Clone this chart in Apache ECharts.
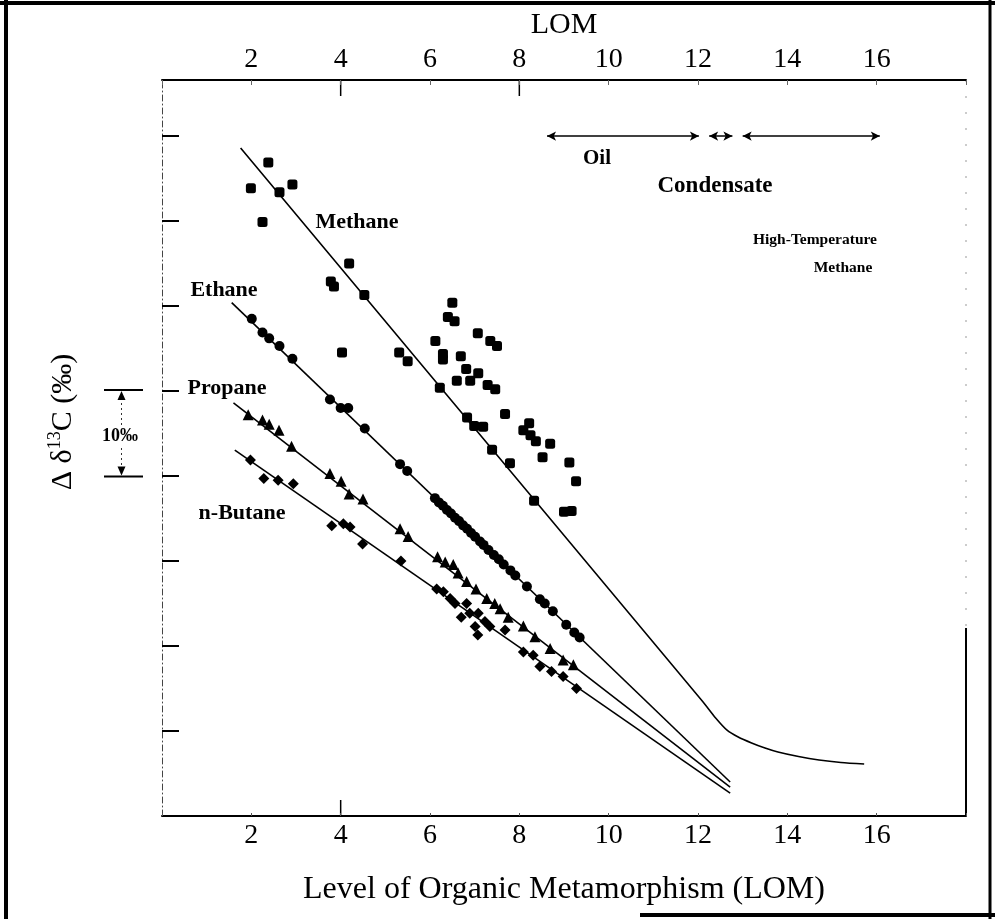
<!DOCTYPE html>
<html>
<head>
<meta charset="utf-8">
<script src="https://cdn.jsdelivr.net/npm/echarts@6/dist/echarts.min.js"></script>
<style>
html,body{margin:0;padding:0;background:#fff;}
#chart{width:995px;height:919px;}
</style>
</head>
<body>
<div id="chart"></div>
<script>
// ---- Data (LOM, relative delta13C in permil units; one y tick = 10 permil) ----
const xTickLabels = [2, 4, 6, 8, 10, 12, 14, 16];

const methanePoints = [
  [2.38,76.9],[1.99,73.85],[2.63,73.4],[2.92,74.3],[2.25,69.9],
  [4.19,65.0],[3.78,62.9],[3.85,62.3],[4.53,61.3],[4.03,54.55],
  [5.31,54.55],[5.50,53.5],[6.50,60.4],[6.40,58.7],[6.55,58.2],
  [7.07,56.8],[7.35,55.9],[7.50,55.3],[6.12,55.9],[6.29,54.35],
  [6.29,53.7],[6.69,54.1],[6.81,52.6],[7.08,52.1],[6.60,51.2],
  [6.90,51.2],[6.22,50.4],[7.29,50.7],[7.46,50.2],[7.68,47.3],
  [6.83,46.9],[6.99,45.9],[7.19,45.8],[8.22,46.2],[8.09,45.4],
  [8.25,44.8],[8.37,44.1],[8.69,43.8],[7.39,43.1],[7.79,41.5],
  [8.52,42.2],[9.12,41.6],[9.27,39.4],[8.33,37.1],[9.00,35.8],[9.17,35.9]
];

const ethanePoints = [
  [2.01,58.5],[2.25,56.9],[2.40,56.2],[2.63,55.3],[2.92,53.8],
  [3.76,49.0],[4.00,48.0],[4.17,48.0],[4.54,45.6],[5.33,41.4],[5.49,40.6],
  [6.11,37.4],[6.20,36.9],[6.29,36.5],[6.38,36.0],[6.47,35.6],[6.56,35.1],
  [6.65,34.7],[6.74,34.2],[6.83,33.8],[6.92,33.3],[7.01,32.85],[7.12,32.3],
  [7.20,31.9],[7.31,31.3],[7.43,30.7],[7.54,30.2],[7.65,29.6],[7.80,28.9],
  [7.91,28.3],[8.17,27.0],[8.46,25.5],[8.57,25.0],[8.75,24.1],[9.05,22.5],
  [9.23,21.6],[9.35,21.0]
];

const propanePoints = [
  [1.93,47.2],[2.25,46.6],[2.40,46.1],[2.62,45.4],[2.90,43.5],
  [3.76,40.3],[4.01,39.4],[4.19,37.9],[4.50,37.3],[5.33,33.8],[5.51,32.9],
  [6.17,30.5],[6.34,29.9],[6.52,29.6],[6.63,28.6],[6.82,27.6],[7.03,26.7],
  [7.27,25.6],[7.45,25.0],[7.57,24.4],[7.75,23.4],[8.09,22.35],[8.35,21.1],
  [8.69,19.7],[8.98,18.35],[9.21,17.8]
];

const butanePoints = [
  [1.98,41.9],[2.28,39.7],[2.60,39.5],[2.94,39.1],[3.80,34.15],[4.06,34.4],
  [4.21,34.0],[4.49,32.0],[5.35,30.0],[6.15,26.7],[6.30,26.4],[6.45,25.6],
  [6.56,25.0],[6.82,25.0],[6.70,23.4],[6.89,23.85],[7.08,23.85],[7.01,22.3],
  [7.07,21.3],[7.23,22.9],[7.34,22.3],[7.68,21.9],[8.09,19.3],[8.31,18.9],
  [8.46,17.6],[8.72,17.0],[8.98,16.4],[9.28,15.0]
];

const methaneFit = [
  [1.76,78.6],[12.1,13.5],[12.4,11.5],[12.65,10.1],[12.9,9.3],[13.2,8.6],[13.5,8.0],
  [13.79,7.53],[14.25,7.0],[14.71,6.59],[15.2,6.3],[15.72,6.12]
];
const ethaneFit = [[1.56,60.4],[12.72,4.0]];
const propaneFit = [[1.6,48.6],[12.72,3.4]];
const butaneFit = [[1.63,43.06],[12.72,2.7]];

// maturity ranges (LOM) drawn as double-headed arrows at y = 80
const oilRange = [8.62, 12.02];
const condensateRange = [12.25, 12.77];
const highTempRange = [13.0, 16.07];
const rangeLevel = 80;

// ---- Chart ----
const FONT = "'Liberation Serif', 'Times New Roman', serif";
const chart = echarts.init(document.getElementById('chart'), null, {renderer: 'canvas'});

function fitSeries(data, smooth) {
  return {
    type: 'line', data: data, showSymbol: false, symbol: 'none', smooth: smooth || false,
    lineStyle: {color: '#000', width: 1.6}, silent: true, z: 2
  };
}
function scatterSeries(data, symbol, size) {
  return {
    type: 'scatter', data: data, symbol: symbol, symbolSize: size,
    itemStyle: {color: '#000', opacity: 1}, silent: true, z: 3
  };
}

const option = {
  backgroundColor: '#fff',
  animation: false,
  grid: {left: 162, right: 29, top: 80, bottom: 103},
  xAxis: [
    {
      type: 'value', position: 'bottom', min: 0, max: 18, interval: 2,
      name: 'Level of Organic Metamorphism (LOM)', nameLocation: 'middle', nameGap: 58,
      nameTextStyle: {fontFamily: FONT, fontSize: 32, color: '#000'},
      axisLine: {lineStyle: {color: '#000', width: 2}},
      axisTick: {inside: true, length: 3, lineStyle: {color: '#555', width: 1}},
      axisLabel: {fontFamily: FONT, fontSize: 28, color: '#000', margin: 6,
        formatter: v => xTickLabels.indexOf(v) >= 0 ? String(v) : ''},
      splitLine: {show: false}
    },
    {
      type: 'value', position: 'top', min: 0, max: 18, interval: 2,
      name: 'LOM', nameLocation: 'middle', nameGap: 40,
      nameTextStyle: {fontFamily: FONT, fontSize: 30, color: '#000'},
      axisLine: {lineStyle: {color: '#000', width: 2}},
      axisTick: {inside: true, length: 5, lineStyle: {color: '#666', width: 1}},
      axisLabel: {fontFamily: FONT, fontSize: 28, color: '#000', margin: 6,
        formatter: v => xTickLabels.indexOf(v) >= 0 ? String(v) : ''},
      splitLine: {show: false}
    }
  ],
  yAxis: {
    type: 'value', min: 0, max: 86.6, interval: 10,
    axisLine: {show: true, lineStyle: {color: '#444', width: 1, type: [6, 3, 1, 3]}},
    axisTick: {show: true, inside: true, length: 17, lineStyle: {color: '#000', width: 2}},
    axisLabel: {show: false},
    splitLine: {show: false}
  },
  series: [
    fitSeries(methaneFit, 0.25),
    fitSeries(ethaneFit),
    fitSeries(propaneFit),
    fitSeries(butaneFit),
    scatterSeries(methanePoints, 'roundRect', 10),
    scatterSeries(ethanePoints, 'circle', 10),
    scatterSeries(propanePoints, 'triangle', 11),
    scatterSeries(butanePoints, 'diamond', 11),
    {
      type: 'line', data: [], silent: true,
      markLine: {
        silent: true, symbol: ['arrow', 'arrow'], symbolSize: [7, 9], animation: false,
        label: {show: false},
        lineStyle: {color: '#000', width: 1.5, type: 'solid'},
        data: [oilRange, condensateRange, highTempRange].map(r => [
          {coord: [r[0], rangeLevel]}, {coord: [r[1], rangeLevel]}
        ])
      }
    }
  ]
};
chart.setOption(option);

// ---- decorations & annotations ----
function px(lom) { return chart.convertToPixel({xAxisIndex: 0}, lom); }
function tline(x1, y1, x2, y2, w, color, dash) {
  return {type: 'line', shape: {x1: x1, y1: y1, x2: x2, y2: y2}, silent: true,
    style: {stroke: color || '#000', lineWidth: w || 1, lineDash: dash || null}};
}
function ttext(x, y, str, size, weight) {
  return {type: 'text', x: x, y: y, silent: true,
    style: {text: str, fontFamily: FONT, fontSize: size, fontWeight: weight || 'normal',
      fill: '#000', align: 'center', verticalAlign: 'middle'}};
}
const x4 = px(4), x8 = px(8);
const graphics = [
  // outer frame
  tline(0, 3, 995, 3, 4),
  tline(6, 0, 6, 919, 4),
  tline(990, 0, 990, 919, 3),
  tline(640, 915, 995, 915, 4),
  // right border of plot
  tline(966, 80, 966, 628, 1, '#999', [2, 14]),
  tline(966, 628, 966, 816, 2),
  // longer ticks
  tline(x4, 80, x4, 96, 1.5),
  tline(x8, 80, x8, 96, 1.5),
  tline(x4, 816, x4, 800, 1.5),
  // 10 permil bracket
  tline(104, 390, 143, 390, 2),
  tline(104, 476.5, 143, 476.5, 2),
  tline(121.5, 398, 121.5, 468, 1, '#333', [2, 3]),
  {type: 'polygon', shape: {points: [[121.5, 391], [117.5, 400], [125.5, 400]]}, style: {fill: '#000'}, silent: true},
  {type: 'polygon', shape: {points: [[121.5, 475.5], [117.5, 466.5], [125.5, 466.5]]}, style: {fill: '#000'}, silent: true},
  {type: 'text', x: 120, y: 436, silent: true,
    style: {text: '10‰', fontFamily: FONT, fontSize: 18, fontWeight: 'bold',
      fill: '#000', align: 'center', verticalAlign: 'middle', backgroundColor: '#fff', padding: [2, 1]}},
  // y-axis title (rotated)
  {type: 'text', x: 63, y: 422, rotation: Math.PI / 2, silent: true,
    style: {text: 'Δ δ{s|13}C (‰)', fontFamily: FONT, fontSize: 30, fill: '#000',
      align: 'center', verticalAlign: 'middle',
      rich: {s: {fontFamily: FONT, fontSize: 18, verticalAlign: 'top', lineHeight: 34, padding: [0, 0, 12, 0]}}}},
  // curve labels
  ttext(357, 222, 'Methane', 22, 'bold'),
  ttext(224, 290, 'Ethane', 22, 'bold'),
  ttext(227, 388, 'Propane', 22, 'bold'),
  ttext(242, 513, 'n-Butane', 22, 'bold'),
  // maturity zones
  ttext(597, 159, 'Oil', 21, 'bold'),
  ttext(715, 186, 'Condensate', 23, 'bold'),
  ttext(815, 240, 'High-Temperature', 15.5, 'bold'),
  ttext(843, 268, 'Methane', 15.5, 'bold')
];
chart.setOption({graphic: graphics});
</script>
</body>
</html>
